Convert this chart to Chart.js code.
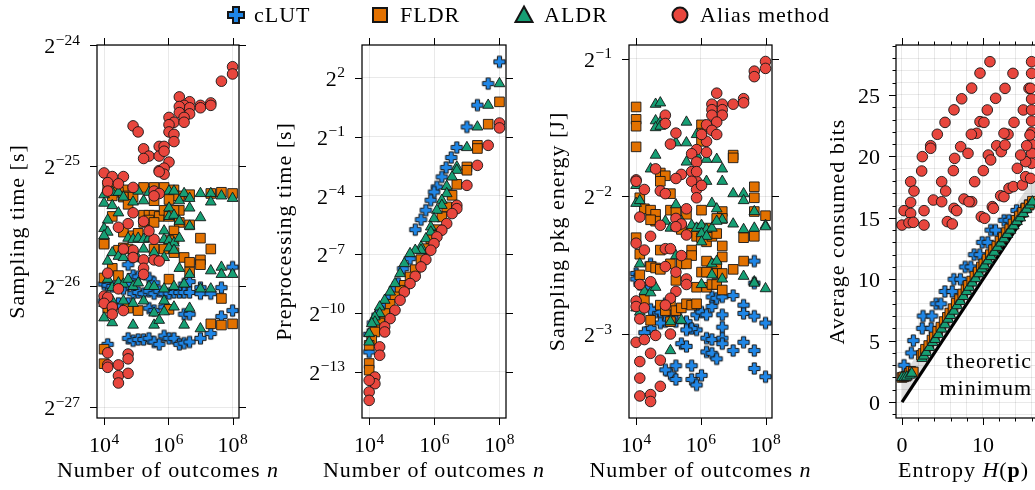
<!DOCTYPE html>
<html><head><meta charset="utf-8">
<script src="https://cdn.jsdelivr.net/npm/chart.js@4.4.1/dist/chart.umd.min.js"></script>
<style>
html,body{margin:0;padding:0;background:#fff;}
#wrap{position:relative;width:1035px;height:490px;overflow:hidden;background:#fff;}
#wrap canvas.panel{position:absolute;left:0;top:0;}
.lgt{position:absolute;top:0;height:30px;line-height:30px;font-family:"Liberation Serif","Times New Roman",serif;font-size:22px;letter-spacing:1px;color:#000;white-space:nowrap;}
.lgm{position:absolute;}
</style></head>
<body><div id="wrap">
<canvas id="c1" class="panel" width="1035" height="490"></canvas>
<canvas id="c2" class="panel" width="1035" height="490"></canvas>
<canvas id="c3" class="panel" width="1035" height="490"></canvas>
<canvas id="c4" class="panel" width="1100" height="490"></canvas>
<div id="legend"></div>
</div>
<script>
// ---------------- DATA ----------------
const seriesNames = ['cLUT', 'FLDR', 'ALDR', 'Alias method'];
const seriesColors = ['#1f86e6', '#e27100', '#169f74', '#e8463d'];

// tick labels
const xTickExps = [4, 6, 8];                 // 10^k, outcomes n
const p1YTickExps = [-27, -26, -25, -24];    // 2^k seconds
const p2YTickExps = [-13, -10, -7, -4, -1, 2];
const p3YTickExps = [-3, -2, -1];
const p4XTicks = [0, 10, 20];
const p4YTicks = [0, 5, 10, 15, 20, 25];

// Panel 1: sampling time, [n, log2(seconds)]
const timeClut = [[5.6e4,-25.82],[8e4,-25.91],[1.15e5,-25.92],[2.5e5,-25.93],[3.6e5,-25.97],[3.1e6,-25.98],[4.6e6,-25.96],[1e8,-25.84],
[1e4,-25.98],[1.3e4,-25.99],[1.8e4,-26.00],[2.8e4,-26.00],[4e4,-26.02],[5.6e4,-25.98],[8e4,-26.06],[1.15e5,-26.05],[1.7e5,-26.06],[2.5e5,-26.04],[3.6e5,-26.06],[5.2e5,-26.04],[7.4e5,-26.06],[1.05e6,-26.06],[1.5e6,-26.05],[2.2e6,-26.05],[3.1e6,-26.05],[4.6e6,-26.05],[1e7,-26.01],[1e7,-26.06],[2.1e7,-26.06],[4.5e7,-26.01],
[1e4,-26.12],[1.3e4,-26.12],[2.8e4,-26.14],[5.6e4,-26.14],[2.5e5,-26.18],[3.6e5,-26.20],[7.4e5,-26.17],[3.1e6,-26.23],[4.6e6,-26.23],[4.5e7,-26.25],[1e8,-26.20],
[1.3e4,-26.48],[5.6e4,-26.43],[8e4,-26.45],[1.15e5,-26.44],[1.7e5,-26.44],[2.5e5,-26.43],[3.6e5,-26.46],[5.2e5,-26.48],[7.4e5,-26.41],[1.05e6,-26.43],[1.5e6,-26.43],[2.2e6,-26.48],[3.1e6,-26.47],[4.6e6,-26.46],[1e7,-26.43],[2.1e7,-26.39]];
const timeFldr = [[1.3e4,-25.16],[1.8e4,-25.19],[4e4,-25.20],[2.8e4,-25.22],[5.6e4,-25.25],[4e4,-25.26],[1.8e4,-25.25],[1.7e5,-25.18],[8e4,-25.26],[3.6e5,-25.18],[7.4e5,-25.18],[1.5e6,-25.20],[5.6e4,-25.32],[3.6e5,-25.29],[2.2e6,-25.25],[4.6e6,-25.24],[1.5e6,-25.25],[2.2e6,-25.37],[1.05e6,-25.28],[2.1e7,-25.23],[4.5e7,-25.22],[1e8,-25.23],
[1.8e4,-25.42],[1.7e5,-25.41],[2.5e5,-25.41],[3.6e5,-25.41],[5.2e5,-25.42],[7.4e5,-25.37],[1.05e6,-25.42],[1.5e6,-25.37],[2.2e6,-25.47],[4.6e6,-25.49],[1.7e5,-25.47],[2.5e5,-25.45],[3.6e5,-25.47],[4e4,-25.55],[8e4,-25.58],[1.15e5,-25.56],[1.5e6,-25.54],[1.5e6,-25.61],[1.05e6,-25.62],[1e4,-25.64],[1e4,-25.65],[2.8e4,-25.70],[4e4,-25.68],[5.6e4,-25.69],[3.6e5,-25.69],[7.4e5,-25.69],[1.5e6,-25.72],[1e7,-25.60],[2.1e7,-25.69],[3.1e6,-25.76],[4.6e6,-25.80],[1e7,-25.78],[1e7,-25.82],[1e4,-25.93],[1.8e4,-25.85],[2.8e4,-25.91],[1.05e6,-25.94],[4.6e6,-25.88],[4.5e7,-26.10],[4.5e7,-26.32],[1e8,-26.31],[2.1e7,-26.31],
[1.3e4,-26.18],[1.8e4,-26.17],[5.6e4,-26.18],[1.15e5,-26.20],[1.05e6,-26.19],[1e4,-26.52],[1e4,-26.64]];
const timeAldr = [[1e4,-25.24],[1e4,-25.31],[1.3e4,-25.18],[1.8e4,-25.22],[2.8e4,-25.22],[1.8e4,-25.33],[4e4,-25.26],[1.15e5,-25.21],[8e4,-25.30],[1.7e5,-25.29],[2.5e5,-25.22],[1.05e6,-25.21],[1.5e6,-25.21],[3.1e6,-25.23],[2.2e6,-25.29],[4.6e6,-25.27],[4.6e6,-25.35],[1e7,-25.23],[2.1e7,-25.23],[2.1e7,-25.30],[1e8,-25.27],[4.5e7,-25.25],
[1.3e4,-25.45],[2.8e4,-25.39],[1.05e6,-25.35],[1.05e6,-25.42],[1.5e6,-25.41],[2.2e6,-25.46],[1e7,-25.43],[4.6e6,-25.50],[1e4,-25.52],[1.3e4,-25.55],[1e4,-25.58],[5.6e4,-25.60],[8e4,-25.61],[1.15e5,-25.60],[1.7e5,-25.61],[2.5e5,-25.60],[7.4e5,-25.54],[7.4e5,-25.61],[1.05e6,-25.62],[1.5e6,-25.64],[2.2e6,-25.60],[1.8e4,-25.72],[2.8e4,-25.75],[4e4,-25.76],[8e4,-25.72],[1.15e5,-25.77],[1.7e5,-25.69],[3.6e5,-25.72],[7.4e5,-25.76],[1.05e6,-25.68],[1.5e6,-25.70],[1.3e4,-25.79],[2.2e6,-25.85],[4.6e6,-25.90],[2.1e7,-25.87],[4.5e7,-25.84],[4.5e7,-25.90],[1e8,-25.90],
[1.3e4,-25.94],[1.8e4,-26.01],[2.8e4,-25.97],[4e4,-25.98],[5.6e4,-25.94],[8e4,-26.00],[1.15e5,-25.97],[2.5e5,-26.00],[3.6e5,-26.00],[7.4e5,-26.02],[1.5e6,-26.00],[3.1e6,-25.98],[1e7,-26.02],[2.1e7,-26.02],
[1e4,-26.14],[1.8e4,-26.12],[4e4,-26.12],[8e4,-26.14],[1.7e5,-26.12],[3.6e5,-26.22],[7.4e5,-26.12],[7.4e5,-26.21],[1.5e6,-26.17],[4.6e6,-26.18],[1e4,-26.26],[1.8e4,-26.30],[8e4,-26.32],[3.6e5,-26.32],[5.2e5,-26.28],[3.1e6,-26.32],[1e7,-26.35]];
const timeAlias = [[1e8,-24.18],[1e8,-24.24],[4.5e7,-24.30],[2.2e6,-24.43],[4.6e6,-24.47],[3.1e6,-24.50],[4.6e6,-24.52],[2.2e6,-24.51],[1e7,-24.50],[1e7,-24.52],[2.1e7,-24.48],[2.1e7,-24.50],[2.2e6,-24.56],[4.6e6,-24.57],[1.05e6,-24.60],[3.1e6,-24.60],[1.5e6,-24.64],[1.05e6,-24.66],[3.1e6,-24.64],[8e4,-24.67],[1.15e5,-24.72],[1.05e6,-24.72],[1.5e6,-24.74],[1.5e6,-24.80],[1.7e5,-24.86],[5.2e5,-24.84],[7.4e5,-24.84],[2.5e5,-24.92],[1.7e5,-24.94],[5.2e5,-24.92],[7.4e5,-24.88],[1.05e6,-24.97],[5.2e5,-25.04],[7.4e5,-25.02],[7.4e5,-25.07],[5.2e5,-25.05],
[1e4,-25.06],[1.8e4,-25.09],[4e4,-25.09],[1.3e4,-25.14],[2.8e4,-25.15],[1.3e4,-25.21],[8e4,-25.18],[3.6e5,-25.21],[5.2e5,-25.23],[3.6e5,-25.25],[8e4,-25.39],[5.6e4,-25.48],[2.8e4,-25.51],[1.7e5,-25.46],[3.6e5,-25.61],[2.5e5,-25.54],[8e4,-25.70],[4e4,-25.69],[1.7e5,-25.78],[3.6e5,-25.78],[1.7e5,-25.85],[8e4,-25.76],[1.3e4,-25.89],[1.7e5,-25.90],[5.2e5,-25.79],[2.8e4,-26.02],[1e4,-26.08],[1.3e4,-26.09],[1e4,-26.14],[1.8e4,-26.17],[4e4,-26.20],[1.8e4,-26.23],[1.3e4,-26.55],[5.6e4,-26.56],[5.6e4,-26.60],[1.3e4,-26.65],[1.3e4,-26.67],[2.8e4,-26.65],[2.8e4,-26.74],[2.8e4,-26.80],[5.6e4,-26.72]];

// Panel 2: preprocessing time, [n, log2(seconds)]
const prepClut = [[1e8,2.82],[4.5e7,1.71],[2.1e7,0.61],[1e7,-0.5],[4.9e6,-1.55],[3.3e6,-2.06],[2.3e6,-2.57],[1.7e6,-3.05],[1.2e6,-3.56],[9.8e5,-3.82],[7.8e5,-4.24],[5.5e5,-4.75],[3.9e5,-5.23],[2.6e5,-5.74],[1.8e5,-7.22],[1.1e5,-7.73],[7.8e4,-8.49],[6.2e4,-8.75],[4.4e4,-9.17],[3.3e4,-9.6],[2.4e4,-9.94],[1.8e4,-10.1],[1.3e4,-10.5],[1e4,-11.08],[1e4,-11.98]];
const prepFldr = [[1e8,0.78],[4.5e7,-0.36],[2.1e7,-1.44],[2.1e7,-1.6],[1e7,-2.54],[1e7,-2.71],[4.9e6,-3.43],[3.5e6,-3.99],[2.4e6,-4.58],[1.7e6,-5.09],[1.2e6,-5.74],[9.8e5,-6.03],[7.8e5,-6.2],[5.5e5,-6.71],[3.9e5,-7.27],[2.6e5,-7.78],[1.8e5,-8.15],[1.2e5,-8.58],[8.9e4,-8.83],[6.2e4,-9.17],[4.4e4,-9.55],[3.0e4,-10.02],[2.1e4,-10.5],[1.5e4,-10.96],[1.2e4,-11.38],[1e4,-11.64],[1e4,-12.57],[1e4,-12.91]];
const prepAldr = [[1e8,1.71],[4.5e7,0.61],[2.1e7,-0.5],[1e7,-1.55],[4.9e6,-2.54],[4.9e6,-2.71],[3.5e6,-3.05],[2.4e6,-3.53],[2.4e6,-3.9],[1.7e6,-4.24],[1.7e6,-4.5],[1.2e6,-4.75],[9.8e5,-5.18],[7.8e5,-5.6],[7.8e5,-5.86],[5.5e5,-6.2],[3.9e5,-6.62],[3.9e5,-6.79],[2.6e5,-6.79],[1.8e5,-6.96],[1.2e5,-7.47],[8.9e4,-7.98],[6.2e4,-8.49],[4.4e4,-8.92],[3.0e4,-9.34],[2.1e4,-9.68],[2.1e4,-10.02],[1.5e4,-10.19],[1.5e4,-10.45],[1.2e4,-10.53],[1e4,-11.04],[1e4,-11.47]];
const prepAlias = [[1e8,-0.30],[1e8,-0.55],[4.5e7,-1.44],[2.1e7,-2.46],[1e7,-3.48],[4.9e6,-4.5],[4.9e6,-4.67],[3.5e6,-4.92],[2.4e6,-5.43],[1.7e6,-5.77],[1.2e6,-6.11],[9.8e5,-6.45],[7.8e5,-6.79],[5.5e5,-7.27],[3.9e5,-7.64],[2.6e5,-8.12],[1.8e5,-8.49],[1.2e5,-8.92],[8.9e4,-9.34],[6.2e4,-9.85],[4.4e4,-10.28],[3.0e4,-10.7],[3.0e4,-10.96],[2.1e4,-11.72],[2.1e4,-12.15],[1.5e4,-13.26],[1.5e4,-13.6],[1e4,-13.43],[1e4,-14.02],[1e4,-14.45]];

// Panel 3: sampling pkg energy, [n, log2(joules)]
const energyClut = [[2.8e4,-2.49],[1e4,-2.56],[1e4,-2.60],[1.3e4,-2.64],[2.8e4,-2.66],[8e4,-2.78],[4e4,-2.84],[5.6e4,-2.84],[1.7e5,-2.84],[3.6e5,-2.91],[7.4e5,-2.86],[1.05e6,-2.84],[1.5e6,-2.86],[2.2e6,-2.80],[2.2e6,-2.73],[3.1e6,-2.74],[4.6e6,-2.73],[1e7,-2.72],[2.1e7,-2.79],[2.1e7,-2.85],[4.5e7,-2.47],[4.5e7,-2.63],[4.5e7,-2.87],[1e8,-2.92],[4.6e6,-2.86],[4.6e6,-2.95],[7.4e5,-2.97],[5.2e5,-2.96],[3.6e5,-2.97],[1.7e5,-2.91],[1.15e5,-2.90],[8e4,-2.91],[5.6e4,-2.92],[2.8e4,-2.96],[1.8e4,-2.99],[2.5e5,-3.07],[3.6e5,-3.09],[1.5e6,-3.03],[2.2e6,-3.04],[4.6e6,-3.03],[4.6e6,-3.07],[1e7,-3.12],[2.1e7,-3.06],[4.5e7,-3.12],[1e8,-3.31],[4.5e7,-3.25],[1.5e6,-3.13],[2.2e6,-3.14],[3.1e6,-3.18],[1.7e5,-3.23],[1.15e5,-3.29],[8e4,-3.26],[1.7e5,-3.33],[5.2e5,-3.33],[7.4e5,-3.37],[1.05e6,-3.30],[5.2e5,-3.23],[2.8e4,-2.82]];
const energyFldr = [[1e4,-1.35],[1e4,-1.44],[1e4,-1.49],[1e4,-1.64],[1.05e6,-1.48],[1.05e6,-1.54],[1.05e6,-1.60],[1e7,-1.70],[1e7,-1.72],[5.6e4,-1.83],[8e4,-1.85],[5.6e4,-1.89],[1.15e5,-1.98],[1.3e4,-2.01],[1.8e4,-2.09],[2.8e4,-2.10],[4e4,-2.13],[4e4,-2.18],[2.8e4,-2.17],[1.15e5,-2.10],[1.7e5,-2.11],[3.6e5,-2.13],[1.05e6,-2.10],[4.6e6,-2.11],[4.6e6,-2.16],[3.1e6,-2.16],[4.5e7,-1.93],[4.5e7,-2.01],[4.5e7,-2.11],[1e8,-2.14],[1.5e6,-2.23],[7.4e5,-2.23],[5.2e5,-2.26],[2.5e5,-2.24],[7.4e5,-2.29],[1.05e6,-2.30],[1.5e6,-2.33],[2.2e6,-2.29],[3.1e6,-2.27],[4.6e6,-2.36],[2.1e7,-2.30],[4.5e7,-2.29],[1e4,-2.30],[5.6e4,-2.39],[5.2e5,-2.39],[5.2e5,-2.43],[1.3e4,-2.42],[2.8e4,-2.51],[4e4,-2.52],[5.6e4,-2.53],[1.15e5,-2.49],[2.5e5,-2.49],[3.6e5,-2.49],[1.5e6,-2.47],[3.1e6,-2.49],[4.6e6,-2.44],[1e7,-2.53],[2.1e7,-2.47],[1.05e6,-2.55],[1.5e6,-2.55],[3.1e6,-2.56],[4.6e6,-2.56],[1.7e5,-2.61],[7.4e5,-2.66],[1.5e6,-2.66],[2.2e6,-2.64],[3.1e6,-2.64],[4.6e6,-2.68],[1.3e4,-2.57],[1.8e4,-2.75],[5.6e4,-2.79],[8e4,-2.83],[1.15e5,-2.79],[1.7e5,-2.83],[2.5e5,-2.81],[3.6e5,-2.78],[5.2e5,-2.79],[7.4e5,-2.78],[2.8e4,-2.90],[1.15e5,-2.91]];
const energyAldr = [[4e4,-1.33],[5.6e4,-1.32],[4e4,-1.45],[5.6e4,-1.46],[4e4,-1.50],[5.6e4,-1.49],[3.6e5,-1.46],[7.4e5,-1.55],[1.7e5,-1.61],[3.6e5,-1.61],[4e4,-1.70],[3.6e5,-1.75],[7.4e5,-1.70],[1.5e6,-1.73],[3.1e6,-1.73],[4.6e6,-1.80],[2.8e4,-1.80],[1e4,-1.92],[1.5e6,-1.89],[4.6e6,-1.89],[1e7,-1.98],[2.1e7,-1.98],[2.1e7,-2.03],[4.5e7,-2.11],[1e4,-2.05],[1.3e4,-2.03],[1.7e5,-2.06],[2.2e6,-2.05],[3.1e6,-2.09],[4.6e6,-2.17],[1e7,-2.20],[2.1e7,-2.24],[4.5e7,-2.23],[1e8,-2.21],[1e8,-2.22],[8e4,-2.18],[1.15e5,-2.23],[1.7e5,-2.22],[2.5e5,-2.18],[5.2e5,-2.21],[7.4e5,-2.23],[1.05e6,-2.21],[1.5e6,-2.24],[2.2e6,-2.23],[3.1e6,-2.18],[1.05e6,-2.27],[1.5e6,-2.29],[1.05e6,-2.33],[1.3e4,-2.49],[1.7e5,-2.43],[2.2e6,-2.49],[3.1e6,-2.47],[4.6e6,-2.60],[2.1e7,-2.58],[4.5e7,-2.62],[4.5e7,-2.63],[1e8,-2.67],[1.8e4,-2.69],[2.8e4,-2.70],[4e4,-2.66],[1.05e6,-2.64],[2.2e6,-2.57],[1e4,-2.81],[1.3e4,-2.84],[1.15e5,-2.91],[2.5e5,-2.90],[1.15e5,-3.12]];
const energyAlias = [[1e8,-1.02],[1e8,-1.07],[4.5e7,-1.09],[4.5e7,-1.13],[2.1e7,-1.29],[2.1e7,-1.32],[1e7,-1.33],[3.1e6,-1.25],[4.6e6,-1.33],[4.6e6,-1.37],[2.2e6,-1.33],[2.2e6,-1.37],[4.6e6,-1.41],[2.2e6,-1.41],[3.1e6,-1.46],[1.5e6,-1.48],[2.2e6,-1.52],[3.1e6,-1.55],[8e4,-1.41],[8e4,-1.47],[1.7e5,-1.54],[1.15e5,-1.62],[1.5e6,-1.60],[1.05e6,-1.55],[7.4e5,-1.66],[5.2e5,-1.69],[1.5e6,-1.68],[7.4e5,-1.75],[5.2e5,-1.82],[7.4e5,-1.89],[7.4e5,-1.82],[5.2e5,-1.89],[7.4e5,-1.95],[1.05e6,-1.92],[2.5e5,-1.84],[1.7e5,-1.87],[7.4e5,-2.01],[1e4,-1.88],[1e4,-1.89],[1.8e4,-1.95],[4e4,-1.80],[5.6e4,-1.96],[8e4,-1.98],[3.6e5,-2.09],[1.7e5,-2.16],[2.5e5,-2.20],[3.6e5,-2.28],[1.7e5,-2.22],[5.6e4,-2.21],[2.8e4,-2.29],[1.3e4,-2.15],[1e4,-2.34],[1.8e4,-2.39],[8e4,-2.38],[1.15e5,-2.38],[2.5e5,-2.43],[1.7e5,-2.55],[1.3e4,-2.64],[2.8e4,-2.62],[8e4,-2.51],[3.6e5,-2.60],[3.6e5,-2.64],[1.7e5,-2.69],[1.15e5,-2.74],[8e4,-2.79],[1e4,-2.76],[1e4,-2.80],[1.8e4,-2.81],[1.3e4,-2.89],[4e4,-3.01],[1.15e5,-3.00],[1e4,-3.06],[1.8e4,-3.04],[2.8e4,-3.14],[1.3e4,-3.20],[5.6e4,-3.19],[5.6e4,-3.38],[1.3e4,-3.32],[1.3e4,-3.45],[2.8e4,-3.44],[2.8e4,-3.49]];

// Panel 4: average consumed bits vs entropy H(p), [H, bits]
const bitsClut = [[0.25,3],[1.15,4],[1.4,5],[2.5,6],[3.6,6],[2.6,7],[3.7,7],[4.2,8],[4.8,8],[5.3,9],[6.2,9],[6.4,10],[7.2,10],[7.8,11],[8.5,11],[8.9,12],[9.6,12],[9.9,13],[10.6,13],[10.95,14],[11.55,14],[12.6,14.8],[13.2,14.8],[14.15,15.6],[14.9,15.6],[15.4,16],[15.9,16.1]];
const bitsFldr = [[0.0,2.0],[0.2,2.05],[0.5,2.1],[0.9,2.35],[1.1,2.5],[1.4,2.45],[2.4,3.8],[2.6,3.95],[2.9,4.3],[3.3,4.6],[3.7,5.05],[4.0,5.3],[4.4,5.75],[4.8,6.1],[5.2,6.55],[5.6,6.9],[5.9,7.25],[6.3,7.6],[6.7,8.05],[7.1,8.35],[7.5,8.8],[7.9,9.15],[8.2,9.5],[8.6,9.85],[9.0,10.25],[9.4,10.6],[9.8,11.0],[10.1,11.25],[10.5,11.65],[10.9,12.0],[11.3,12.4],[11.7,12.7],[12.1,13.1],[12.5,13.4],[12.9,13.8],[13.3,14.1],[13.7,14.5],[14.1,14.8],[14.5,15.15],[14.9,15.45],[15.3,15.8],[15.7,16.05],[16.1,16.35]];
const bitsAldr = [[0.0,2.0],[0.3,2.0],[0.6,2.05],[1.0,2.2],[1.2,2.35],[2.5,3.55],[2.7,3.75],[3.0,4.05],[3.4,4.45],[3.8,4.85],[4.1,5.1],[4.5,5.5],[4.9,5.95],[5.3,6.3],[5.7,6.75],[6.0,7.05],[6.4,7.4],[6.8,7.85],[7.2,8.2],[7.6,8.6],[8.0,9.0],[8.3,9.35],[8.7,9.7],[9.1,10.05],[9.5,10.45],[9.9,10.85],[10.2,11.1],[10.6,11.5],[11.0,11.85],[11.4,12.2],[11.8,12.6],[12.2,12.95],[12.6,13.3],[13.0,13.65],[13.4,14.0],[13.8,14.35],[14.2,14.7],[14.6,15.0],[15.0,15.35],[15.4,15.7],[15.8,16.05],[16.1,16.3]];
const bitsAlias = [[10.86,27.71],[9.63,26.78],[8.60,25.56],[7.37,24.69],[6.42,23.79],[5.31,22.77],[4.36,21.80],[3.54,20.87],[2.51,19.98],[2.43,18.81],[1.07,17.94],[1.48,17.18],[1.07,16.26],[0.25,15.58],[1.07,15.36],[0,14.41],[0.86,14.60],[1.40,14.63],[2.72,14.41],[2.72,15.58],[3.87,16.45],[4.90,17.94],[5.39,17.18],[4.90,16.31],[6.34,18.84],[6.50,19.84],[7.24,20.79],[8.15,20.25],[7.65,16.53],[8.60,16.31],[8.97,17.94],[10.04,18.84],[10.66,20.11],[10.95,19.71],[11.69,20.87],[12.26,20.39],[12.72,20.93],[13.09,21.80],[13.83,22.77],[14.98,23.78],[15.68,25.54],[16.0,27.71],[16.0,26.76],[15.88,25.54],[16.0,24.67],[16.0,23.78],[16.0,22.88],[16.0,21.96],[16.0,20.98],[16.0,20.25],[16.0,19.44],[15.39,20.87],[15.80,21.74],[15.27,19.57],[14.65,20.11],[14.24,19.03],[12.59,21.88],[11.56,24.73],[12.72,25.54],[13.70,26.76],[10.53,23.78],[9.63,22.83],[10.12,22.77],[9.22,21.88],[8.56,21.80],[6.42,15.77],[6.75,15.58],[9.79,15.09],[10.21,14.96],[11.15,15.91],[12.18,16.80],[12.59,16.72],[13.21,17.40],[13.74,17.54],[14.86,17.67],[15.27,18.35],[15.88,18.21],[5.60,14.69],[6.21,14.50],[8.27,16.31],[11.28,15.77],[3.54,20.66]];
// theoretic minimum (bits = H) and the +2 bits band
const minLine = [[0,0],[17,17]];
const bandTop = [[0,2],[17,19]];

// ---------------- RENDERING ----------------
const FF = '"Liberation Serif","Times New Roman",serif';
const GRID = 'rgba(0,0,0,0.085)';
const OUTLINE = '#151515';

function plusCanvas(L, a, lw, color) {
  const s = Math.ceil(2 * L + lw + 2);
  const c = document.createElement('canvas'); c.width = s; c.height = s;
  const g = c.getContext('2d'); g.translate(s / 2, s / 2);
  const pts = [[-a,-L],[a,-L],[a,-a],[L,-a],[L,a],[a,a],[a,L],[-a,L],[-a,a],[-L,a],[-L,-a],[-a,-a]];
  g.beginPath(); pts.forEach((p, i) => i ? g.lineTo(p[0], p[1]) : g.moveTo(p[0], p[1])); g.closePath();
  g.fillStyle = color; g.fill(); g.lineWidth = lw; g.strokeStyle = OUTLINE; g.lineJoin = 'miter'; g.stroke();
  return c;
}
const plusImg = plusCanvas(5.6, 2.1, 1, seriesColors[0]);

const markerDefs = [
  { pointStyle: plusImg, radius: 6 },
  { pointStyle: 'rect', radius: 6.8 },
  { pointStyle: 'triangle', radius: 6.2 },
  { pointStyle: 'circle', radius: 5.3 }
];

const pow2 = v => Math.pow(2, v);
const ident = v => v;
function toXY(pairs, conv) { return pairs.map(([x, v]) => ({ x: x, y: conv(v) })); }

function scatterSets(list, conv) {
  return list.map((pairs, i) => ({
    label: seriesNames[i],
    data: toXY(pairs, conv),
    pointStyle: markerDefs[i].pointStyle,
    pointRadius: markerDefs[i].radius,
    pointHoverRadius: markerDefs[i].radius,
    backgroundColor: seriesColors[i],
    borderColor: OUTLINE,
    borderWidth: 0.9,
    order: 4 - i
  }));
}

function setFont(ctx, size, style) { ctx.font = (style || '') + ' ' + size + 'px ' + FF; }
function richWidth(ctx, segs, size) { let w = 0; segs.forEach(s => { setFont(ctx, size, s.s); w += ctx.measureText(s.t).width; }); return w; }
function drawRich(ctx, segs, size, x, y, align) {
  const w = richWidth(ctx, segs, size);
  let cx = align === 'center' ? x - w / 2 : (align === 'right' ? x - w : x);
  ctx.textAlign = 'left';
  segs.forEach(s => { setFont(ctx, size, s.s); ctx.fillText(s.t, cx, y); cx += ctx.measureText(s.t).width; });
}
function drawTickLabel(ctx, lab, x, y, align) {
  ctx.letterSpacing = '0px';
  setFont(ctx, 22); const wb = ctx.measureText(lab.base).width;
  let we = 0;
  if (lab.exp) { setFont(ctx, 15.5); we = ctx.measureText(lab.exp).width + 0.5; }
  const w = wb + we;
  const x0 = align === 'center' ? x - w / 2 : (align === 'right' ? x - w : x);
  ctx.textAlign = 'left';
  setFont(ctx, 22); ctx.fillText(lab.base, x0, y);
  if (lab.exp) { setFont(ctx, 15.5); ctx.fillText(lab.exp, x0 + wb + 0.5, y - 8.5); }
}
const fmtExp = e => (e < 0 ? '\u2212' + (-e) : String(e));

const DECO = {};
const decoPlugin = {
  id: 'deco',
  afterDraw(chart) {
    const cfg = DECO[chart.canvas.id]; if (!cfg) return;
    const ctx = chart.ctx, a = chart.chartArea, xs = chart.scales.x, ys = chart.scales.y;
    ctx.save();
    ctx.strokeStyle = '#000'; ctx.fillStyle = '#000';
    ctx.lineWidth = 1.25;
    ctx.strokeRect(a.left, a.top, a.right - a.left, a.bottom - a.top);
    ctx.lineWidth = 1;
    const seg = (x1, y1, x2, y2) => { ctx.beginPath(); ctx.moveTo(x1, y1); ctx.lineTo(x2, y2); ctx.stroke(); };
    cfg.xTicks.forEach(t => {
      const px = Math.round(xs.getPixelForValue(t.v)) + 0.5; const L = t.minor ? 3.5 : 7;
      seg(px, a.bottom, px, a.bottom + L); seg(px, a.top, px, a.top - L);
    });
    cfg.yTicks.forEach(t => {
      const py = Math.round(ys.getPixelForValue(t.v)) + 0.5; const L = t.minor ? 3.5 : 7;
      seg(a.left - L, py, a.left, py); seg(a.right, py, a.right + L, py);
    });
    ctx.textBaseline = 'alphabetic';
    cfg.xTicks.forEach(t => { if (t.label) drawTickLabel(ctx, t.label, xs.getPixelForValue(t.v), a.bottom + 34, 'center'); });
    cfg.yTicks.forEach(t => { if (t.label) drawTickLabel(ctx, t.label, a.left - cfg.yLabelGap, ys.getPixelForValue(t.v) + 8, 'right'); });
    ctx.letterSpacing = '1px';
    if (cfg.xTitleLeft != null) drawRich(ctx, cfg.xTitle, 22, cfg.xTitleLeft, 477, 'left');
    else drawRich(ctx, cfg.xTitle, 22, (a.left + a.right) / 2, 477, 'center');
    ctx.save(); ctx.translate(cfg.yTitleX, (a.top + a.bottom) / 2); ctx.rotate(-Math.PI / 2);
    drawRich(ctx, cfg.yTitle, 22, 0, 0, 'center'); ctx.restore();
    if (cfg.notes) cfg.notes.forEach(n => {
      drawRich(ctx, [{ t: n.t }], 22, xs.getPixelForValue(n.x), ys.getPixelForValue(n.y), 'right');
    });
    ctx.restore();
  }
};

const xLabelTicks = xTickExps.map(e => ({ v: Math.pow(10, e), label: { base: '10', exp: String(e) } }));
const nTitle = [{ t: 'Number of outcomes ' }, { t: 'n', s: 'italic' }];

function logPanel(id, area, yExps, yRange, sets, yTitle, yTitleX) {
  DECO[id] = {
    xTicks: xLabelTicks,
    yTicks: yExps.map(e => ({ v: Math.pow(2, e), label: { base: '2', exp: fmtExp(e) } })),
    xTitle: nTitle, yTitle: yTitle, yTitleX: yTitleX, yLabelGap: 17
  };
  const cw = document.getElementById(id).width;
  return new Chart(document.getElementById(id), {
    type: 'scatter',
    data: { datasets: scatterSets(sets, pow2) },
    plugins: [decoPlugin],
    options: {
      responsive: false, animation: false, devicePixelRatio: 1,
      layout: { padding: { left: area[0], top: area[1], right: cw - area[2], bottom: 490 - area[3] } },
      plugins: { legend: { display: false }, tooltip: { enabled: false } },
      scales: {
        x: { type: 'logarithmic', min: Math.pow(10, 3.78), max: Math.pow(10, 8.2),
             ticks: { display: false }, grid: { drawTicks: false, color: GRID, lineWidth: 1 }, border: { display: false },
             afterBuildTicks: s => { s.ticks = xTickExps.map(e => ({ value: Math.pow(10, e) })); } },
        y: { type: 'logarithmic', min: Math.pow(2, yRange[0]), max: Math.pow(2, yRange[1]),
             ticks: { display: false }, grid: { drawTicks: false, color: GRID, lineWidth: 1 }, border: { display: false },
             afterBuildTicks: s => { s.ticks = yExps.map(e => ({ value: Math.pow(2, e) })); } }
      }
    }
  });
}

logPanel('c1', [97, 45, 239, 418], p1YTickExps, [-27, -24], [timeClut, timeFldr, timeAldr, timeAlias],
  [{ t: 'Sampling time [s]' }], 23.5);
logPanel('c2', [362, 45, 506, 418], p2YTickExps, [-15.35, 3.68], [prepClut, prepFldr, prepAldr, prepAlias],
  [{ t: 'Preprocessing time [s]' }], 291);
logPanel('c3', [629, 45, 772, 418], p3YTickExps, [-3.61, -0.9], [energyClut, energyFldr, energyAldr, energyAlias],
  [{ t: 'Sampling pkg energy [J]' }], 564);

// Panel 4
(function () {
  const id = 'c4';
  const xTicks = [];
  for (let v = 0; v <= 20; v += 2) xTicks.push(p4XTicks.includes(v) ? { v: v, label: { base: String(v) } } : { v: v, minor: true });
  const yTicks = [];
  for (let v = -1; v <= 29; v++) yTicks.push(p4YTicks.includes(v) ? { v: v, label: { base: String(v) } } : { v: v, minor: true });
  DECO[id] = {
    xTicks: xTicks, yTicks: yTicks, yLabelGap: 16,
    xTitle: [{ t: 'Entropy ' }, { t: 'H', s: 'italic' }, { t: '(' }, { t: 'p', s: 'bold' }, { t: ')' }],
    xTitleLeft: 898,
    yTitle: [{ t: 'Average consumed bits' }], yTitleX: 844,
    notes: [{ t: 'theoretic', x: 16.05, y: 2.77 }, { t: 'minimum', x: 16.05, y: 0.57 }]
  };
  const area = [896, 45, 1060, 418];
  const cw = document.getElementById(id).width;
  const sets = scatterSets([bitsClut, bitsFldr, bitsAldr, bitsAlias], ident);
  sets.unshift({
    type: 'line', label: 'band', data: toXY(bandTop, ident), showLine: true, pointRadius: 0, borderWidth: 0,
    borderColor: 'rgba(0,0,0,0)', backgroundColor: 'rgba(0,0,0,0.13)', fill: '-1', order: 10
  });
  sets.unshift({
    type: 'line', label: 'theoretic minimum', data: toXY(minLine, ident), showLine: true, pointRadius: 0,
    borderWidth: 3.2, borderColor: '#000', fill: false, order: 9
  });
  new Chart(document.getElementById(id), {
    type: 'scatter',
    data: { datasets: sets },
    plugins: [decoPlugin],
    options: {
      responsive: false, animation: false, devicePixelRatio: 1,
      layout: { padding: { left: area[0], top: area[1], right: cw - area[2], bottom: 490 - area[3] } },
      plugins: { legend: { display: false }, tooltip: { enabled: false } },
      scales: {
        x: { type: 'linear', min: -0.74, max: (1060 - 902) / 8.1,
             ticks: { display: false }, grid: { drawTicks: false, color: GRID, lineWidth: 1 }, border: { display: false },
             afterBuildTicks: s => { s.ticks = xTicks.map(t => ({ value: t.v })); } },
        y: { type: 'linear', min: -1.3, max: 29.07,
             ticks: { display: false }, grid: { drawTicks: false, color: GRID, lineWidth: 1 }, border: { display: false },
             afterBuildTicks: s => { s.ticks = yTicks.map(t => ({ value: t.v })); } }
      }
    }
  });
})();

// Legend
(function () {
  const lg = document.getElementById('legend');
  const pos = [{ mx: 236, tx: 254 }, { mx: 380, tx: 400 }, { mx: 524, tx: 544 }, { mx: 680, tx: 700 }];
  seriesNames.forEach((name, i) => {
    const c = document.createElement('canvas'); c.width = 24; c.height = 24; c.className = 'lgm';
    c.style.left = (pos[i].mx - 12) + 'px'; c.style.top = (15 - 12) + 'px';
    const g = c.getContext('2d'); g.translate(12, 12);
    g.fillStyle = seriesColors[i]; g.strokeStyle = OUTLINE; g.lineWidth = 2;
    if (i === 0) { const p = plusCanvas(8, 3, 2, seriesColors[0]); g.drawImage(p, -p.width / 2, -p.height / 2); }
    else if (i === 1) { g.fillRect(-7, -7, 14, 14); g.strokeRect(-7, -7, 14, 14); }
    else if (i === 2) { g.beginPath(); g.moveTo(0, -8.5); g.lineTo(8.5, 7); g.lineTo(-8.5, 7); g.closePath(); g.fill(); g.stroke(); }
    else { g.beginPath(); g.arc(0, 0, 7.5, 0, Math.PI * 2); g.fill(); g.stroke(); }
    lg.appendChild(c);
    const s = document.createElement('span'); s.className = 'lgt'; s.textContent = name; s.style.left = pos[i].tx + 'px';
    lg.appendChild(s);
  });
})();
</script>
</body></html>
